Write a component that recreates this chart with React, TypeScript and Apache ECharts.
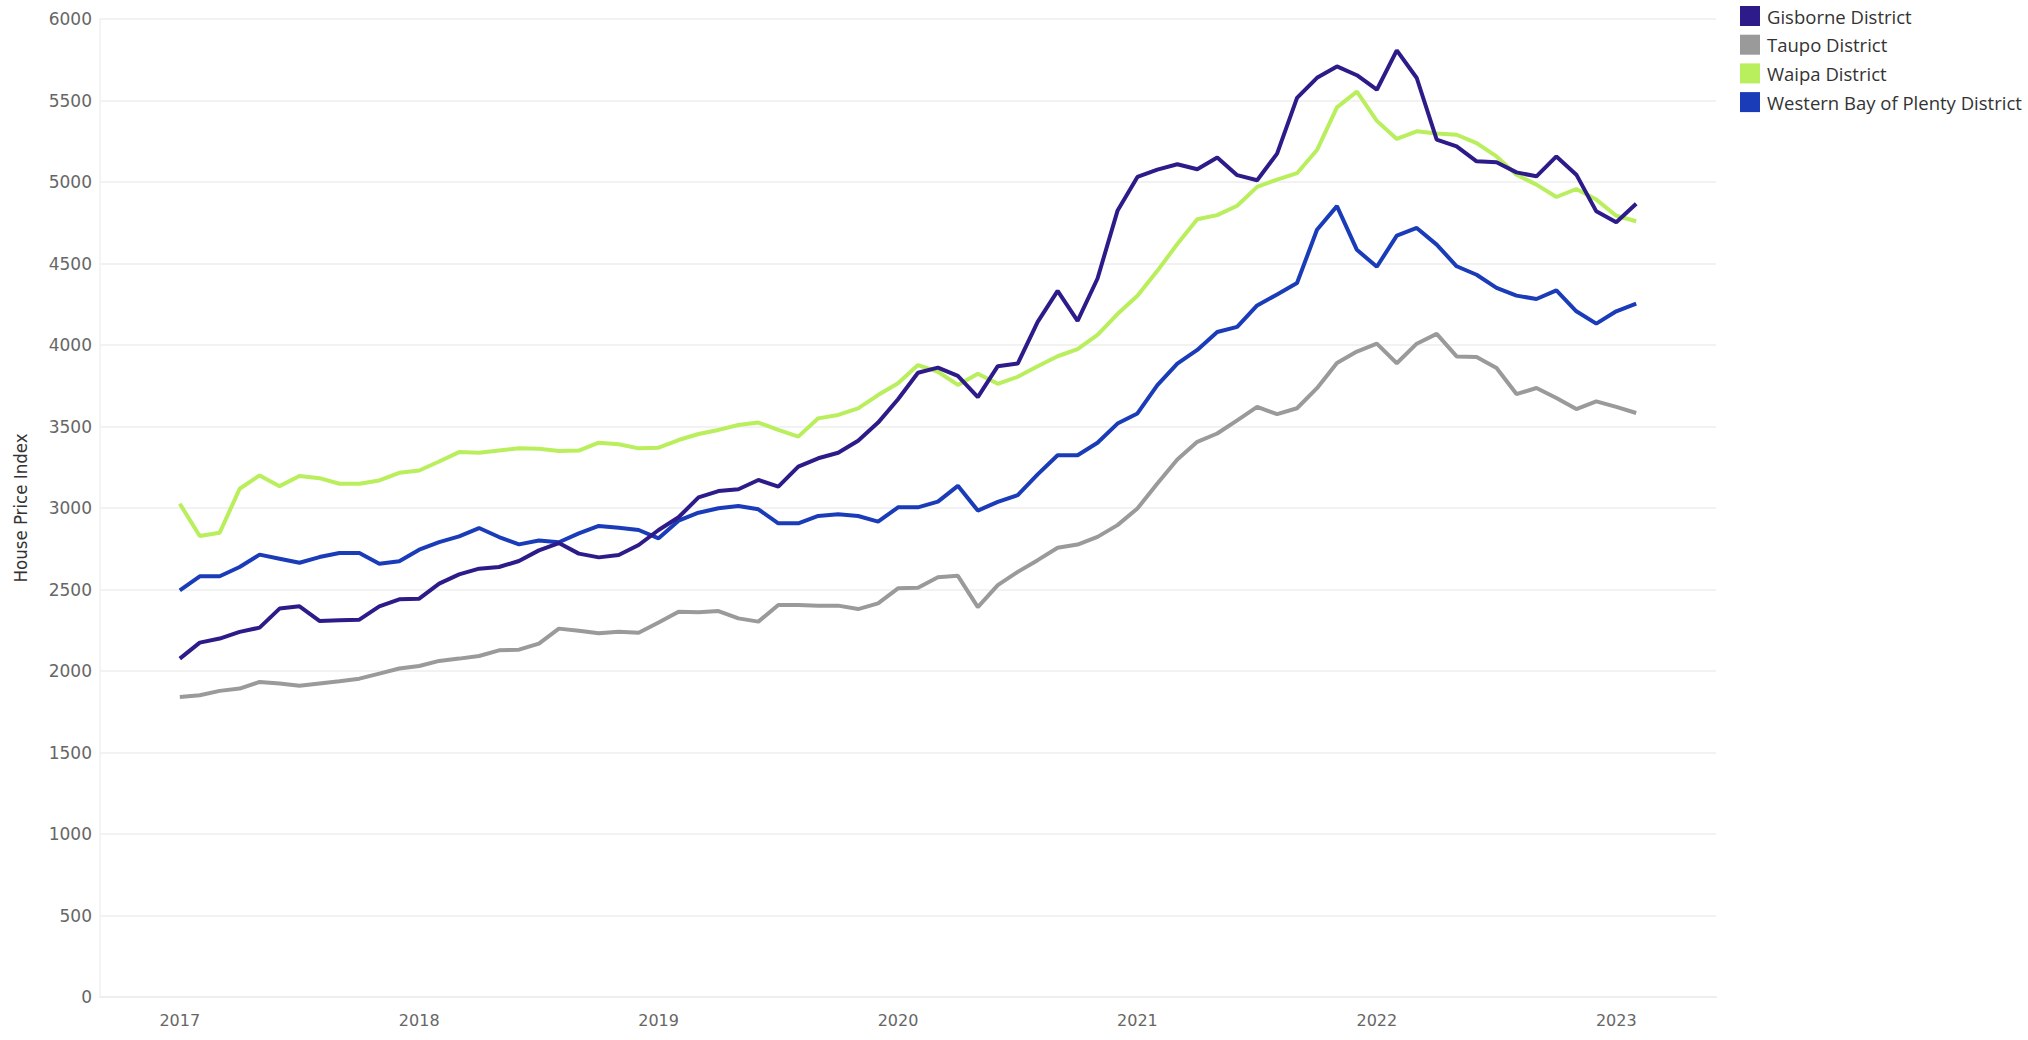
import React, { useEffect, useRef } from "react";
import * as echarts from "echarts";

// Monthly index values, Jan 2017 .. Feb 2023 (74 months)
const startYear = 2017;
const yearTicks = [0, 12, 24, 36, 48, 60, 72];

const seriesNames = [
  "Gisborne District",
  "Taupo District",
  "Waipa District",
  "Western Bay of Plenty District",
];

const gisborne = [
  2076, 2174, 2199, 2240, 2266, 2383, 2397, 2307, 2311, 2315, 2397, 2440,
  2444, 2536, 2593, 2628, 2638, 2675, 2740, 2785, 2720, 2697, 2712, 2773,
  2865, 2943, 3065, 3104, 3115, 3172, 3131, 3254, 3305, 3339, 3413, 3524,
  3667, 3830, 3861, 3810, 3680, 3870, 3886, 4142, 4332, 4148, 4408, 4823,
  5031, 5076, 5109, 5078, 5150, 5042, 5011, 5174, 5516, 5639, 5709, 5655,
  5566, 5808, 5638, 5260, 5219, 5127, 5121, 5059, 5035, 5157, 5045, 4820,
  4753, 4867,
];

const taupo = [
  1841, 1851, 1878, 1892, 1933, 1923, 1909, 1923, 1937, 1953, 1984, 2015,
  2031, 2062, 2076, 2092, 2127, 2131, 2168, 2260, 2247, 2231, 2241, 2235,
  2297, 2364, 2360, 2368, 2323, 2303, 2405, 2405, 2401, 2401, 2380, 2415,
  2507, 2511, 2575, 2584, 2392, 2527, 2608, 2680, 2756, 2776, 2823, 2895,
  2997, 3150, 3297, 3406, 3457, 3538, 3620, 3576, 3612, 3735, 3890, 3960,
  4008, 3888, 4008, 4068, 3930, 3926, 3859, 3699, 3736, 3675, 3607, 3654,
  3620, 3583,
];

const waipa = [
  3026, 2828, 2848, 3118, 3200, 3134, 3196, 3183, 3149, 3149, 3169, 3216,
  3230, 3285, 3343, 3339, 3353, 3367, 3363, 3350, 3352, 3401, 3391, 3366,
  3370, 3417, 3454, 3479, 3509, 3524, 3479, 3438, 3550, 3571, 3611, 3693,
  3765, 3877, 3836, 3755, 3824, 3762, 3805, 3870, 3931, 3974, 4062, 4190,
  4302, 4455, 4620, 4771, 4797, 4854, 4970, 5015, 5054, 5196, 5458, 5554,
  5375, 5264, 5311, 5297, 5290, 5239, 5157, 5045, 4984, 4908, 4957, 4892,
  4793, 4759,
];

const westernBop = [
  2495, 2581, 2581, 2638, 2714, 2689, 2664, 2699, 2724, 2724, 2658, 2673,
  2744, 2791, 2826, 2877, 2822, 2777, 2801, 2790, 2844, 2890, 2879, 2865,
  2814, 2922, 2971, 2998, 3012, 2992, 2906, 2906, 2951, 2961, 2951, 2916,
  3004, 3004, 3039, 3136, 2984, 3038, 3079, 3206, 3324, 3324, 3400, 3518,
  3580, 3754, 3886, 3970, 4080, 4111, 4243, 4310, 4380, 4707, 4852, 4584,
  4480, 4671, 4718, 4616, 4483, 4431, 4350, 4303, 4282, 4335, 4207, 4131,
  4207, 4254,
];

const seriesValues = [gisborne, taupo, waipa, westernBop];
const seriesColors = ["#2E1B8A", "#9A9A9A", "#B9EE5C", "#1B3CB9"];

export default function App() {
  const ref = useRef<HTMLDivElement>(null);

  useEffect(() => {
    if (!ref.current) return;
    const chart = echarts.init(ref.current, null, { renderer: "svg" });
    const tickFont = "'DejaVu Sans', 'Open Sans', sans-serif";
    chart.setOption({
      animation: false,
      backgroundColor: "#ffffff",
      grid: { left: 100, right: 312, top: 19, bottom: 43, containLabel: false },
      legend: {
        orient: "vertical",
        left: 1735,
        top: 1,
        itemWidth: 20,
        itemHeight: 20,
        itemGap: 8.7,
        icon: "rect",
        data: seriesNames,
        textStyle: {
          fontFamily: "'Open Sans', 'Noto Sans', sans-serif",
          fontSize: 18.5,
          color: "#333333",
          padding: [0, 0, 0, 2],
        },
      },
      xAxis: {
        type: "value",
        min: -4,
        max: 77,
        splitLine: { show: false },
        axisTick: { show: false },
        axisLine: { show: true, lineStyle: { color: "#eeeeee", width: 2 } },
        axisLabel: {
          customValues: yearTicks,
          formatter: (v: number) => String(startYear + Math.round(v / 12)),
          fontFamily: tickFont,
          fontSize: 16,
          color: "#666666",
          margin: 15,
        },
      },
      yAxis: {
        type: "value",
        min: 0,
        max: 6000,
        interval: 500,
        name: "House Price Index",
        nameLocation: "middle",
        nameGap: 70,
        nameTextStyle: {
          fontFamily: "'Liberation Sans Narrow', 'DejaVu Sans Condensed', 'Roboto', sans-serif",
          fontSize: 18.5,
          color: "#333333",
        },
        axisLine: { show: true, onZero: false, lineStyle: { color: "#f0f0f0", width: 1.5 } },
        axisTick: { show: false },
        splitLine: { show: true, lineStyle: { color: "#eeeeee", width: 1.5 } },
        axisLabel: {
          formatter: (v: number) => String(v),
          fontFamily: tickFont,
          fontSize: 17,
          color: "#666666",
          margin: 8,
        },
      },
      series: seriesNames.map((name, k) => ({
        name,
        type: "line",
        symbol: "none",
        color: seriesColors[k],
        lineStyle: { width: 4, color: seriesColors[k] },
        z: k === 0 ? 5 : 2,
        data: seriesValues[k].map((v, i) => [i, v]),
      })),
    });
    return () => chart.dispose();
  }, []);

  return (
    <div
      ref={ref}
      style={{ position: "absolute", left: 0, top: 0, width: 2028, height: 1040 }}
    />
  );
}
